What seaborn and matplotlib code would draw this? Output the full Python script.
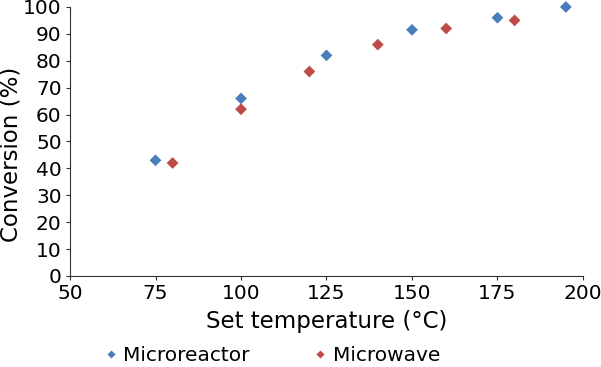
import pandas as pd
import matplotlib
matplotlib.use("Agg")
import matplotlib.pyplot as plt
import seaborn as sns

# data
micro_temp = [75, 100, 125, 150, 175, 195]
micro_conv = [43, 66, 82, 91.5, 96, 100]
wave_temp = [80, 100, 120, 140, 160, 180]
wave_conv = [42, 62, 76, 86, 92, 95]
series_names = ['Microreactor', 'Microwave']
series_colors = ['#4a7ebb', '#be4b48']


def build_frame():
    df1 = pd.DataFrame({'temp': micro_temp, 'conv': micro_conv,
                        'series': series_names[0]})
    df2 = pd.DataFrame({'temp': wave_temp, 'conv': wave_conv,
                        'series': series_names[1]})
    return pd.concat([df1, df2], ignore_index=True)


def main():
    sns.set_style('ticks')
    plt.rcParams['font.family'] = ['DejaVu Sans']
    plt.rcParams['text.color'] = 'black'
    plt.rcParams['axes.labelcolor'] = 'black'
    df = build_frame()

    fig = plt.figure(figsize=(6.01, 3.67), dpi=100)
    ax = fig.add_axes([0.1165, 0.248, 0.8535, 0.733])
    sns.scatterplot(data=df, x='temp', y='conv', hue='series',
                    palette=dict(zip(series_names, series_colors)),
                    marker='D', s=36, edgecolor='none', ax=ax, legend=True,
                    clip_on=False)

    ax.set_xlim(50, 200)
    ax.set_ylim(0, 100)
    ax.set_xticks(range(50, 201, 25))
    ax.set_yticks(range(0, 101, 10))
    ax.tick_params(labelsize=14.5, length=3, pad=3, color='#333333',
                   labelcolor='black')
    ax.set_xlabel('Set temperature (°C)', fontsize=16.5, labelpad=5)
    ax.set_ylabel('Conversion (%)', fontsize=16.5)
    ax.yaxis.set_label_coords(-0.092, 0.4535)
    for side in ['left', 'bottom']:
        ax.spines[side].set_color('#333333')
    sns.despine(ax=ax)

    handles, labels = ax.get_legend_handles_labels()
    ax.get_legend().remove()
    fig.legend(handles, labels, loc='lower center', ncol=2, frameon=False,
               fontsize=14.5, bbox_to_anchor=(0.452, -0.045),
               columnspacing=3.1, handlelength=0.8, handletextpad=0.2,
               markerscale=0.65)

    fig.savefig('out.png', dpi=100)


if __name__ == "__main__":
    main()
